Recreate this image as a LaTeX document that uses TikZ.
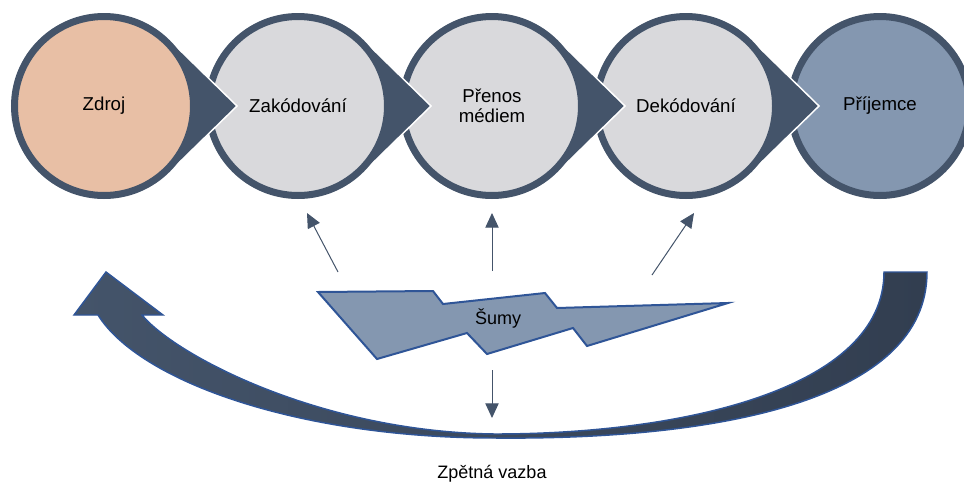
\documentclass[tikz,border=0pt]{standalone}
\usepackage{fontspec}
\setsansfont{Liberation Sans}
\usetikzlibrary{arrows.meta, positioning, calc}
\definecolor{slate}{HTML}{44546A}
\definecolor{slatedark}{HTML}{323E50}
\definecolor{paper}{HTML}{D9D9DC}
\definecolor{peach}{HTML}{E8BFA5}
\definecolor{steel}{HTML}{8497B0}
\definecolor{edgeblue}{HTML}{2F5597}

\begin{document}
\begin{tikzpicture}[x=0.75pt, y=-0.75pt, font=\sffamily\fontsize{14}{16}\selectfont,
  stage/.style={circle, draw=slate, line width=5.25pt, minimum size=134.25pt, inner sep=0pt, align=center},
  pointer/.style={fill=slate, draw=white, line width=1.1pt, line join=miter},
  noisearrow/.style={draw=slate, line width=0.75pt, -{Triangle[length=11pt, width=10pt]}},
  label/.style={font=\sffamily\fontsize{13.5}{16}\selectfont}]
\useasboundingbox (0,0) rectangle (964,486);
% Pointer of one stage, #1 = x centre of its circle
\def\pointer#1{
    \filldraw[pointer] ({#1+65.1},39.6) -- ({#1+133},106) -- ({#1+65.1},172.4) -- (#1,106) -- cycle;
}
% Stage circle, #1 = name, #2 = x centre, #3 = fill, #4 = text
\def\phase#1#2#3#4{
    \node[stage, fill=#3] (#1) at (#2,106) {#4};
}

% Stages, drawn right to left so each pointer lies on the next circle
\phase{recv}{880}{steel}{Příjemce}
\pointer{686}
\phase{decode}{686}{paper}{Dekódování}
\pointer{492}
\phase{medium}{492}{paper}{Přenos\\[-1pt]médiem}
\pointer{298}
\phase{encode}{298}{paper}{Zakódování}
\pointer{104}
\phase{source}{104}{peach}{Zdroj}

% Feedback arrow
\draw[draw=edgeblue, line width=1.1pt, line join=miter, left color=slate, right color=slatedark]
    (927,272) .. controls (927,400) and (720,440) .. (495,438)
    .. controls (300,438) and (140,382) .. (98,315)
    -- (74,315) -- (106,272) -- (163,315) -- (142,315)
    .. controls (175,355) and (320,432) .. (495,434)
    .. controls (680,434) and (884,390) .. (884,272) -- cycle;
\node[label] (feedback) at (492,474) {Zpětná vazba};

% Noise
\filldraw[fill=steel, draw=edgeblue, line width=1.5pt, line join=miter]
    (318,292) -- (433,291) -- (443,304) -- (545,293) -- (557,308) -- (728,303)
    -- (587,346) -- (573,328) -- (487,354) -- (467,333) -- (377,359) -- cycle;
\node[label] (noise) at (498,318) {Šumy};

\coordinate (t1) at (338,272);
\coordinate (h1) at (307,213);
\coordinate (t2) at (492,271);
\coordinate (h2) at (492,213);
\coordinate (t3) at (652,275);
\coordinate (h3) at (694,213);
\coordinate (t4) at (492,370);
\coordinate (h4) at (492,418);
\draw[noisearrow] (t1) -- (h1);
\draw[noisearrow] (t2) -- (h2);
\draw[noisearrow] (t3) -- (h3);
\draw[noisearrow] (t4) -- (h4);
\end{tikzpicture}
\end{document}
